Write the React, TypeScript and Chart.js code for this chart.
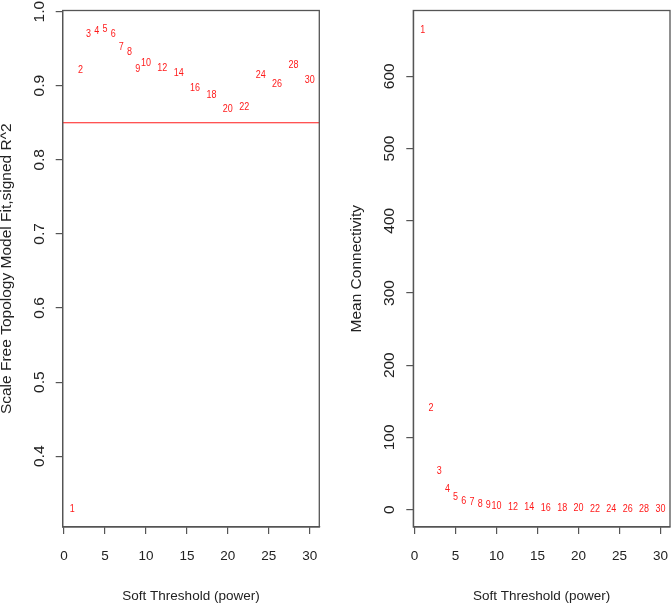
import React, { useEffect, useRef } from "react";
import { Chart, registerables } from "chart.js";

Chart.register(...registerables);

// ---- data ----
const powers = [1, 2, 3, 4, 5, 6, 7, 8, 9, 10, 12, 14, 16, 18, 20, 22, 24, 26, 28, 30];
const scaleFreeFit = [0.329, 0.921, 0.97, 0.973, 0.977, 0.969, 0.952, 0.945, 0.923, 0.93, 0.924, 0.917, 0.897, 0.887, 0.869, 0.871, 0.914, 0.902, 0.928, 0.908];
const meanConnectivity = [664, 139.9, 53.5, 28.2, 17.6, 12.1, 10.7, 7.1, 6.1, 4.7, 3.1, 2.8, 2.3, 2.1, 1.9, 1.2, 1.1, 1.0, 0.9, 0.8];
const xTicks = [0, 5, 10, 15, 20, 25, 30];
const fitTicks = [0.4, 0.5, 0.6, 0.7, 0.8, 0.9, 1.0];
const connTicks = [0, 100, 200, 300, 400, 500, 600];
const cutoff = 0.85;
const xRange = [-0.16, 31.16];
const fitRange = [0.3045, 1.0015];
const connRange = [-24, 691];
const xTitle = "Soft Threshold (power)";
const fitTitle = "Scale Free Topology Model Fit,signed R^2";
const connTitle = "Mean Connectivity";

const RED = "#ff1a1a";
const INK = "#222222";
const FRAME = "#555555";
const FONT = "'Liberation Sans', Arial, Helvetica, sans-serif";

const labelPlugin = {
  id: "powerLabels",
  afterDatasetsDraw(chart: any) {
    const meta = chart.getDatasetMeta(0);
    const ctx = chart.ctx;
    ctx.save();
    ctx.fillStyle = RED;
    ctx.font = `9px ${FONT}`;
    ctx.textAlign = "center";
    ctx.textBaseline = "middle";
    meta.data.forEach((el: any, i: number) => {
      ctx.save();
      ctx.translate(el.x, el.y);
      ctx.scale(1, 1.15);
      ctx.fillText(String(powers[i]), 0, 0);
      ctx.restore();
    });
    ctx.restore();
  },
};

const boxPlugin = {
  id: "frameBox",
  afterDraw(chart: any) {
    const { left, top, right, bottom } = chart.chartArea;
    const ctx = chart.ctx;
    ctx.save();
    ctx.strokeStyle = FRAME;
    ctx.lineWidth = 1.3;
    ctx.strokeRect(left, top, right - left, bottom - top);
    ctx.restore();
  },
};

function makeConfig(opts: {
  values: number[];
  yRange: number[];
  yTicks: number[];
  yFmt: (v: number) => string;
  yTitle: string;
  yWidth: number;
  yPad: number;
  yTitlePad: number;
  padRight: number;
  withCutoff: boolean;
}): any {
  const datasets: any[] = [
    {
      data: powers.map((p, i) => ({ x: p, y: opts.values[i] })),
      pointRadius: 0,
      pointHoverRadius: 0,
      showLine: false,
    },
  ];
  if (opts.withCutoff) {
    datasets.push({
      data: [
        { x: xRange[0], y: cutoff },
        { x: xRange[1], y: cutoff },
      ],
      showLine: true,
      pointRadius: 0,
      borderColor: RED,
      borderWidth: 1.2,
    });
  }
  return {
    type: "scatter",
    data: { datasets },
    options: {
      animation: false,
      responsive: false,
      maintainAspectRatio: false,
      events: [],
      layout: { padding: { top: 10.5, right: opts.padRight, left: 0, bottom: 0 } },
      plugins: { legend: { display: false }, tooltip: { enabled: false } },
      scales: {
        x: {
          type: "linear",
          min: xRange[0],
          max: xRange[1],
          afterBuildTicks: (s: any) => {
            s.ticks = xTicks.map((v) => ({ value: v }));
          },
          afterFit: (s: any) => {
            s.height = 78;
            s.paddingLeft = 0;
            s.paddingRight = 0;
          },
          grid: {
            drawOnChartArea: false,
            drawTicks: true,
            tickLength: 7,
            color: FRAME,
            lineWidth: 1.2,
          },
          border: { display: true, color: FRAME, width: 1.2 },
          ticks: {
            autoSkip: false,
            maxRotation: 0,
            minRotation: 0,
            padding: 14,
            color: INK,
            font: { family: FONT, size: 13.5 },
            callback: (v: any) => String(v),
          },
          title: {
            display: true,
            text: xTitle,
            color: INK,
            font: { family: FONT, size: 13.5 },
            padding: { top: 0, bottom: 1 },
          },
        },
        y: {
          type: "linear",
          min: opts.yRange[0],
          max: opts.yRange[1],
          afterBuildTicks: (s: any) => {
            s.ticks = opts.yTicks.map((v) => ({ value: v }));
          },
          afterFit: (s: any) => {
            s.width = opts.yWidth;
            s.paddingTop = 0;
            s.paddingBottom = 0;
          },
          grid: {
            drawOnChartArea: false,
            drawTicks: true,
            tickLength: 7,
            color: FRAME,
            lineWidth: 1.2,
          },
          border: { display: true, color: FRAME, width: 1.2 },
          ticks: {
            autoSkip: false,
            minRotation: 90,
            maxRotation: 90,
            crossAlign: "center",
            padding: opts.yPad,
            color: INK,
            font: { family: FONT, size: 15.5 },
            callback: (v: any) => opts.yFmt(Number(v)),
          },
          title: {
            display: true,
            text: opts.yTitle,
            color: INK,
            font: { family: FONT, size: 15.5, lineHeight: 0.93 },
            padding: { top: opts.yTitlePad, bottom: 0 },
          },
        },
      },
    },
    plugins: [labelPlugin, boxPlugin],
  };
}

export default function App() {
  const leftRef = useRef<HTMLCanvasElement>(null);
  const rightRef = useRef<HTMLCanvasElement>(null);

  useEffect(() => {
    const left = new Chart(
      leftRef.current as HTMLCanvasElement,
      makeConfig({
        values: scaleFreeFit,
        yRange: fitRange,
        yTicks: fitTicks,
        yFmt: (v) => v.toFixed(1),
        yTitle: fitTitle,
        yWidth: 62.7,
        yPad: 5.6,
        yTitlePad: 0,
        padRight: 16.7,
        withCutoff: true,
      })
    );
    const right = new Chart(
      rightRef.current as HTMLCanvasElement,
      makeConfig({
        values: meanConnectivity,
        yRange: connRange,
        yTicks: connTicks,
        yFmt: (v) => String(Math.round(v)),
        yTitle: connTitle,
        yWidth: 77.3,
        yPad: 3.4,
        yTitlePad: 13.5,
        padRight: 2,
        withCutoff: false,
      })
    );
    return () => {
      left.destroy();
      right.destroy();
    };
  }, []);

  return (
    <div style={{ position: "absolute", left: 0, top: 0, width: 672, height: 605, background: "#ffffff" }}>
      <canvas
        ref={leftRef}
        width={336}
        height={605}
        style={{ position: "absolute", left: 0, top: 0, width: 336, height: 605 }}
      />
      <canvas
        ref={rightRef}
        width={336}
        height={605}
        style={{ position: "absolute", left: 336, top: 0, width: 336, height: 605 }}
      />
    </div>
  );
}
